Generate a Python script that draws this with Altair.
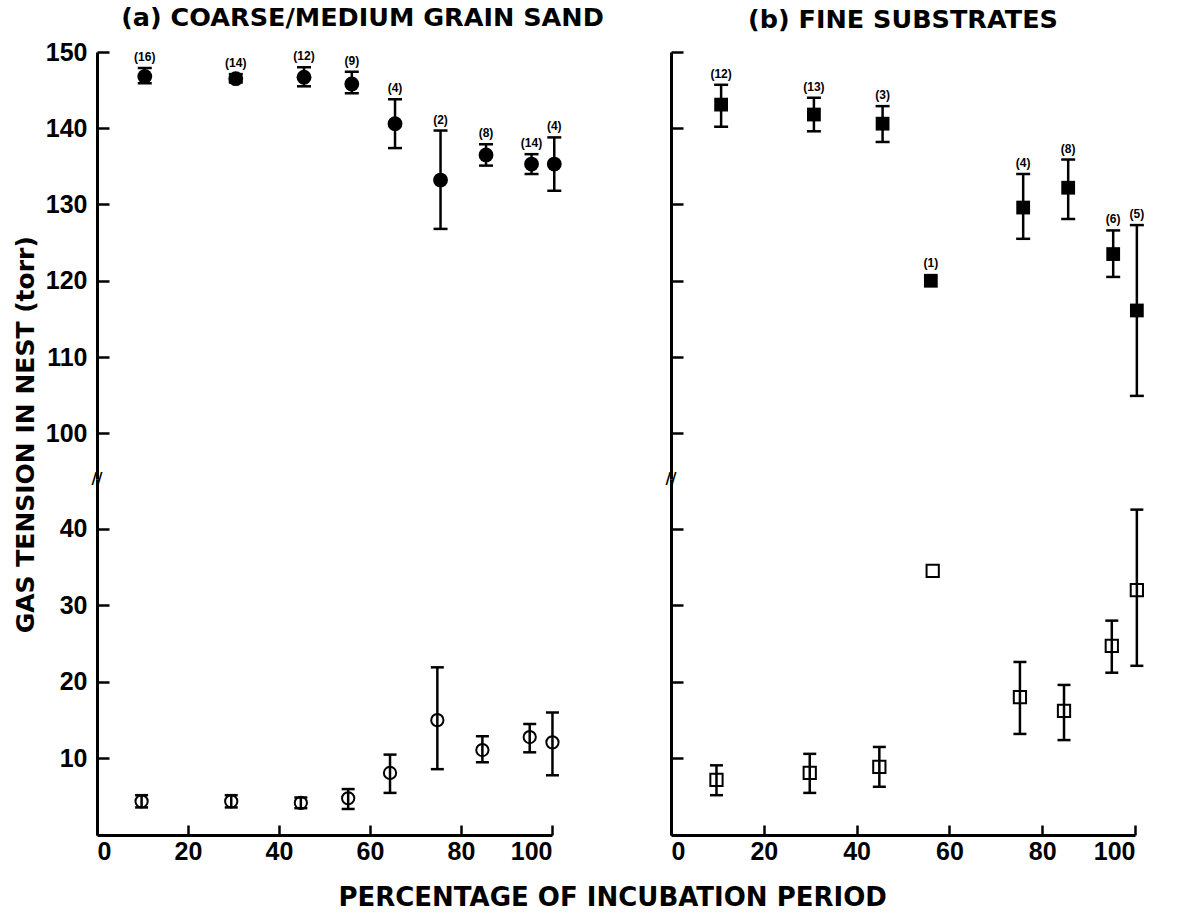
import altair as alt
import pandas as pd

# ---------------- data ----------------
# (a) coarse/medium grain sand: filled circles (upper series), open circles (lower series)
a_up_x = [10.5, 30.5, 45.5, 56.0, 65.5, 75.5, 85.5, 95.5, 100.5]
a_up_y = [146.8, 146.5, 146.7, 145.8, 140.6, 133.2, 136.5, 135.3, 135.3]
a_up_lo = [145.9, 146.0, 145.5, 144.6, 137.4, 126.8, 135.1, 134.0, 131.8]
a_up_hi = [147.9, 147.1, 148.0, 147.4, 143.8, 139.7, 137.9, 136.6, 138.8]
a_up_n = ["(16)", "(14)", "(12)", "(9)", "(4)", "(2)", "(8)", "(14)", "(4)"]

a_lo_x = [9.8, 29.5, 44.8, 55.2, 64.4, 74.8, 84.7, 95.1, 100.1]
a_lo_y = [4.4, 4.4, 4.2, 4.8, 8.1, 15.0, 11.1, 12.8, 12.1]
a_lo_lo = [3.6, 3.6, 3.5, 3.4, 5.5, 8.6, 9.5, 10.8, 7.8]
a_lo_hi = [5.2, 5.2, 4.9, 6.0, 10.5, 21.9, 12.9, 14.5, 16.0]

# (b) fine substrates: filled squares (upper series), open squares (lower series)
b_up_x = [10.8, 30.8, 45.6, 56.0, 75.9, 85.6, 95.3, 100.4]
b_up_y = [143.1, 141.8, 140.6, 120.0, 129.6, 132.2, 123.5, 116.1]
b_up_lo = [140.2, 139.6, 138.2, None, 125.5, 128.1, 120.5, 104.9]
b_up_hi = [145.7, 144.0, 142.9, None, 134.0, 135.9, 126.6, 127.3]
b_up_n = ["(12)", "(13)", "(3)", "(1)", "(4)", "(8)", "(6)", "(5)"]

b_lo_x = [9.8, 29.9, 44.9, 56.4, 75.2, 84.7, 95.0, 100.4]
b_lo_y = [7.2, 8.1, 8.9, 34.5, 18.0, 16.2, 24.7, 32.0]
b_lo_lo = [5.2, 5.5, 6.3, None, 13.2, 12.4, 21.2, 22.1]
b_lo_hi = [9.1, 10.6, 11.5, None, 22.6, 19.6, 28.0, 42.5]

up_ticks = [100, 110, 120, 130, 140, 150]
lo_ticks = [10, 20, 30, 40]
x_ticks = [0, 20, 40, 60, 80, 100]
up_domain = [94, 150]
lo_domain = [0, 46.5]

TEXT_FONT = "DejaVu Sans"
NUM_FONT = "Liberation Sans"
W_A, W_B = 455, 464
H_UP, H_LO = 427, 356

NO_VIEW = alt.ViewBackground(stroke="transparent", strokeWidth=0)


def frame(x, y, lo, hi, n=None):
    d = {"x": x, "y": y, "lo": lo, "hi": hi}
    if n is not None:
        d["n"] = n
    return pd.DataFrame(d)


def segment(df, width, height, ydomain, yticks, shape, filled, msize, cap,
            ylabels, xaxis, title=None, title_dx=0, title_dy=0, breakmark=False):
    xs = alt.Scale(domain=[0, 100], nice=False, zero=False)
    ys = alt.Scale(domain=ydomain, nice=False, zero=False)
    # inward-pointing ticks: a right-oriented axis moved onto the left edge
    y_tick_axis = alt.Axis(orient="right", offset=-width, values=yticks, labels=False,
                           title=None, grid=False, tickSize=12, tickWidth=2.5,
                           tickColor="black", domainColor="black", domainWidth=3)
    y_label_axis = None
    if ylabels:
        y_label_axis = alt.Axis(orient="left", values=yticks, ticks=False, domain=False,
                                grid=False, title=None, labelFont=NUM_FONT,
                                labelFontSize=25, labelFontWeight="bold",
                                labelColor="black", labelPadding=10)
    x_tick_axis = None
    x_label_axis = None
    if xaxis:
        x_tick_axis = alt.Axis(orient="top", offset=-height, values=x_ticks, labels=False,
                               title=None, grid=False, tickSize=10, tickWidth=2.5,
                               tickColor="black", domainColor="black", domainWidth=3)
        x_label_axis = alt.Axis(orient="bottom", values=x_ticks, ticks=False, domain=False,
                                grid=False, title=None, labelFont=NUM_FONT,
                                labelFontSize=25, labelFontWeight="bold",
                                labelColor="black", labelPadding=4)

    base = alt.Chart(df)

    def X(ax):
        return alt.X("x:Q", scale=xs, axis=ax)

    rules = base.mark_rule(color="black", strokeWidth=2.5).encode(
        x=X(x_tick_axis), y=alt.Y("lo:Q", scale=ys, axis=y_tick_axis), y2="hi:Q")
    cap_lo = base.mark_tick(orient="horizontal", size=cap, thickness=2.5,
                            color="black", opacity=1).encode(
        x=X(None), y=alt.Y("lo:Q", scale=ys, axis=None))
    cap_hi = base.mark_tick(orient="horizontal", size=cap, thickness=2.5,
                            color="black", opacity=1).encode(
        x=X(None), y=alt.Y("hi:Q", scale=ys, axis=None))
    pts = base.mark_point(shape=shape, filled=filled, size=msize, color="black",
                          strokeWidth=2, opacity=1).encode(
        x=X(x_label_axis), y=alt.Y("y:Q", scale=ys, axis=y_label_axis))
    layers = [rules, cap_lo, cap_hi, pts]
    if "n" in df.columns:
        txt = base.transform_calculate(
            ly="isValid(datum.hi) ? datum.hi : datum.y + 0.9"
        ).mark_text(baseline="bottom", dy=-4, font=NUM_FONT, fontSize=12,
                    fontWeight="bold", color="black").encode(
            x=X(None), y=alt.Y("ly:Q", scale=ys, axis=None), text="n:N")
        layers.append(txt)
    if breakmark:
        bk = alt.Chart(pd.DataFrame({"x": [0], "y": [ydomain[1]]})).mark_text(
            text="//", font=TEXT_FONT, fontSize=15, fontWeight="bold", color="black"
        ).encode(x=X(None), y=alt.Y("y:Q", scale=ys, axis=None))
        layers.append(bk)
    ch = alt.layer(*layers).resolve_scale(x="shared", y="shared").resolve_axis(
        x="independent", y="independent").properties(width=width, height=height,
                                                      view=NO_VIEW)
    if title is not None:
        ch = ch.properties(title=alt.TitleParams(
            title, font=TEXT_FONT, fontSize=25.5, fontWeight="bold", color="black",
            anchor="middle", offset=9, dx=title_dx, dy=title_dy))
    return ch


a_up = segment(frame(a_up_x, a_up_y, a_up_lo, a_up_hi, a_up_n), W_A, H_UP, up_domain,
               up_ticks, "circle", True, 220, 14, True, False,
               title="(a) COARSE/MEDIUM GRAIN SAND", title_dx=38)
a_lo = segment(frame(a_lo_x, a_lo_y, a_lo_lo, a_lo_hi), W_A, H_LO, lo_domain,
               lo_ticks, "circle", False, 150, 13, True, True, breakmark=True)
b_up = segment(frame(b_up_x, b_up_y, b_up_lo, b_up_hi, b_up_n), W_B, H_UP, up_domain,
               up_ticks, "square", True, 190, 14, False, False,
               title="(b) FINE SUBSTRATES", title_dy=-8)
b_lo = segment(frame(b_lo_x, b_lo_y, b_lo_lo, b_lo_hi), W_B, H_LO, lo_domain,
               lo_ticks, "square", False, 150, 13, False, True, breakmark=True)

colA = alt.vconcat(a_up, a_lo, spacing=0, bounds="flush").properties(
    title=alt.TitleParams("GAS TENSION IN NEST  (torr)", orient="left", anchor="middle",
                          font=TEXT_FONT, fontSize=25, fontWeight="bold",
                          color="black", offset=6))
colB = alt.vconcat(b_up, b_lo, spacing=0, bounds="flush")

chart = alt.hconcat(colA, colB, spacing=61).properties(
    title=alt.TitleParams("PERCENTAGE OF INCUBATION PERIOD", orient="bottom",
                          anchor="middle", font=TEXT_FONT, fontSize=26,
                          fontWeight="bold", color="black", offset=21, dx=32),
    padding={"left": 14, "top": 5, "right": 5, "bottom": 0},
).configure_view(stroke="transparent", strokeWidth=0).configure(background="white")

chart.save("out.html", embed_options={"renderer": "svg", "actions": False})
